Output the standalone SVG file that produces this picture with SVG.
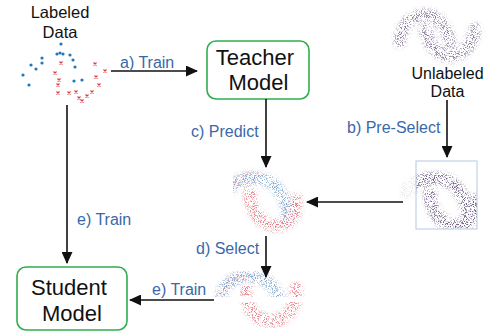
<svg xmlns="http://www.w3.org/2000/svg" width="485" height="331" viewBox="0 0 485 331">
<style>
 .lbl{font-family:"Liberation Sans",Arial,sans-serif;fill:#111;text-anchor:middle}
 .edge{font-family:"Liberation Sans",Arial,sans-serif;fill:#3a68a8;font-size:16px}
 .conn{stroke:#111;stroke-width:1.6;fill:none;marker-end:url(#ah)}
 .box{fill:#fff;stroke:#2fae4e;stroke-width:1.6}
 .pb{fill:#2177b8}
 .px{stroke:#dc3a44;stroke-width:1.1;fill:none}
 .band{fill:none;stroke-linecap:round}
</style>
<defs>
 <marker id="ah" markerUnits="userSpaceOnUse" markerWidth="13" markerHeight="11" refX="11" refY="5.5" orient="auto"><path d="M0,0 L12,5.5 L0,11 z" fill="#111"/></marker>
 <path id="xm" d="M-1.5,-1.5 L1.5,1.5 M-1.5,1.5 L1.5,-1.5"/>
 <path id="pu" d="M226,192 C236,176 262,174 275,186 C284,195 287,205 288,216"/>
 <path id="pl" d="M250,193 C250,212 262,226 278,226 C290,226 297,214 296,200"/>
 <filter id="sp" x="-20%" y="-20%" width="140%" height="140%" color-interpolation-filters="sRGB">
  <feGaussianBlur in="SourceGraphic" stdDeviation="2.6" result="b"/>
  <feTurbulence type="fractalNoise" baseFrequency="1.1" numOctaves="2" seed="3" result="n"/>
  <feColorMatrix in="n" type="matrix" values="0 0 0 0 0  0 0 0 0 0  0 0 0 0 0  6 0 0 0 -2.95" result="m"/>
  <feComposite in="b" in2="m" operator="in"/>
 </filter>
 <filter id="sp2" x="-20%" y="-20%" width="140%" height="140%" color-interpolation-filters="sRGB">
  <feGaussianBlur in="SourceGraphic" stdDeviation="2.6" result="b"/>
  <feTurbulence type="fractalNoise" baseFrequency="1.1" numOctaves="2" seed="11" result="n"/>
  <feColorMatrix in="n" type="matrix" values="0 0 0 0 0  0 0 0 0 0  0 0 0 0 0  6 0 0 0 -3.0" result="m"/>
  <feComposite in="b" in2="m" operator="in"/>
 </filter>
 <clipPath id="cpred"><rect x="233" y="160" width="80" height="80"/></clipPath>
 <clipPath id="cbox"><rect x="416" y="161" width="61" height="68"/></clipPath>
 <clipPath id="cout"><rect x="398" y="150" width="18" height="90"/></clipPath>
 <clipPath id="ctop"><rect x="200" y="260" width="110" height="37"/></clipPath>
 <clipPath id="cbot"><rect x="200" y="302" width="110" height="29"/><rect x="240" y="286" width="18" height="11"/><rect x="284" y="280" width="22" height="17"/></clipPath>
</defs>

<!-- Labeled data -->
<g id="labeled-data">
 <text class="lbl" x="60" y="18" font-size="16.5">Labeled</text>
 <text class="lbl" x="60" y="38" font-size="16.5">Data</text>
 <g class="pb">
  <circle cx="61" cy="44" r="1.6"/><circle cx="57" cy="54" r="1.6"/><circle cx="60" cy="53" r="1.6"/>
  <circle cx="63" cy="54" r="1.6"/><circle cx="70" cy="55" r="1.6"/><circle cx="73" cy="60" r="1.6"/>
  <circle cx="75" cy="67" r="1.6"/><circle cx="42" cy="58" r="1.6"/><circle cx="42" cy="63" r="1.6"/>
  <circle cx="31" cy="65" r="1.6"/><circle cx="36" cy="69" r="1.6"/><circle cx="23" cy="75" r="1.6"/>
  <circle cx="29" cy="85" r="1.6"/><circle cx="74" cy="81" r="1.6"/><circle cx="82" cy="80" r="1.6"/>
 </g>
 <g class="px">
  <use href="#xm" x="61" y="63"/><use href="#xm" x="55" y="73"/><use href="#xm" x="59" y="80"/>
  <use href="#xm" x="58" y="85"/><use href="#xm" x="58" y="93"/><use href="#xm" x="69" y="93"/>
  <use href="#xm" x="76" y="92"/><use href="#xm" x="79" y="98"/><use href="#xm" x="82" y="101"/>
  <use href="#xm" x="87" y="96"/><use href="#xm" x="92" y="92"/><use href="#xm" x="95" y="64"/>
  <use href="#xm" x="96" y="77"/><use href="#xm" x="99" y="85"/><use href="#xm" x="105" y="71"/>
 </g>
</g>

<!-- Teacher -->
<g id="teacher-model">
 <rect class="box" x="207" y="41" width="102" height="58" rx="9"/>
 <text class="lbl" x="255" y="65" font-size="22">Teacher</text>
 <text class="lbl" x="258.5" y="90" font-size="22">Model</text>
</g>

<!-- Unlabeled data -->
<g id="unlabeled-data">
 <g filter="url(#sp)" opacity="0.85">
  <path class="band" d="M400,42 C401,22 414,15 425,15 C438,15 446,26 450,42" stroke="#76668a" stroke-width="12"/>
  <path class="band" d="M425,30 C430,48 440,56 450,56 C462,56 473,46 475,29" stroke="#76668a" stroke-width="12"/>
 </g>
 <text class="lbl" x="447.5" y="79" font-size="16">Unlabeled</text>
 <text class="lbl" x="447.5" y="97" font-size="16">Data</text>
</g>

<!-- Pre-selected data -->
<g id="preselected-data">
 <g clip-path="url(#cout)" opacity="0.22">
  <g filter="url(#sp2)" transform="translate(180,0)">
   <use href="#pu" class="band" stroke="#888" stroke-width="14"/>
   <use href="#pl" class="band" stroke="#888" stroke-width="14"/>
  </g>
 </g>
 <g clip-path="url(#cbox)">
  <g filter="url(#sp)" transform="translate(180,0)" opacity="0.9">
   <use href="#pu" class="band" stroke="#62507a" stroke-width="12"/>
   <use href="#pl" class="band" stroke="#62507a" stroke-width="12"/>
  </g>
 </g>
 <rect x="416" y="161" width="61" height="68" fill="none" stroke="#b6c8e2" stroke-width="1"/>
</g>

<!-- Predicted data -->
<g id="predicted-data">
 <g clip-path="url(#cpred)">
  <g filter="url(#sp)" opacity="0.85">
   <use href="#pu" class="band" stroke="#6a9ccc" stroke-width="12"/>
   <use href="#pl" class="band" stroke="#e0606c" stroke-width="12"/>
  </g>
  <g filter="url(#sp2)" opacity="0.5">
   <path class="band" d="M226,192 C234,179 246,175 256,175" stroke="#e47a84" stroke-width="9"/>
   <path class="band" d="M284,205 C287,212 289,218 290,222" stroke="#7aa6d6" stroke-width="9"/>
  </g>
 </g>
</g>

<!-- Selected data -->
<g id="selected-data">
 <g clip-path="url(#ctop)">
  <g filter="url(#sp)" opacity="0.85">
   <path class="band" d="M221,300 C222,282 238,275 251,276 C265,277 276,286 279,300" stroke="#6a98c8" stroke-width="12"/>
  </g>
  <g filter="url(#sp2)" opacity="0.4">
   <path class="band" d="M221,300 C222,282 238,275 251,276" stroke="#e07080" stroke-width="8"/>
  </g>
 </g>
 <g clip-path="url(#cbot)">
  <g filter="url(#sp)" opacity="0.85">
   <path class="band" d="M246,288 C246,312 258,321 271,321 C286,321 296,310 296,288" stroke="#e06470" stroke-width="12"/>
  </g>
 </g>
</g>

<!-- Student -->
<g id="student-model">
 <rect class="box" x="17" y="267" width="110" height="63" rx="9"/>
 <text class="lbl" x="69" y="295" font-size="22">Student</text>
 <text class="lbl" x="72" y="321" font-size="22">Model</text>
</g>

<!-- Connectors -->
<g id="connectors">
 <line class="conn" x1="111" y1="71" x2="197" y2="71"/>
 <line class="conn" x1="266" y1="99" x2="266" y2="167"/>
 <line class="conn" x1="447" y1="100" x2="447" y2="157"/>
 <line class="conn" x1="403" y1="202" x2="307" y2="202"/>
 <line class="conn" x1="266" y1="236" x2="266" y2="277"/>
 <line class="conn" x1="214" y1="300" x2="130" y2="300"/>
 <line class="conn" x1="67" y1="105" x2="67" y2="263"/>
 <text class="edge" x="120" y="68">a) Train</text>
 <text class="edge" x="191" y="137">c) Predict</text>
 <text class="edge" x="347" y="132.5">b) Pre-Select</text>
 <text class="edge" x="196" y="253.5">d) Select</text>
 <text class="edge" x="152" y="295">e) Train</text>
 <text class="edge" x="77" y="225">e) Train</text>
</g>
</svg>
